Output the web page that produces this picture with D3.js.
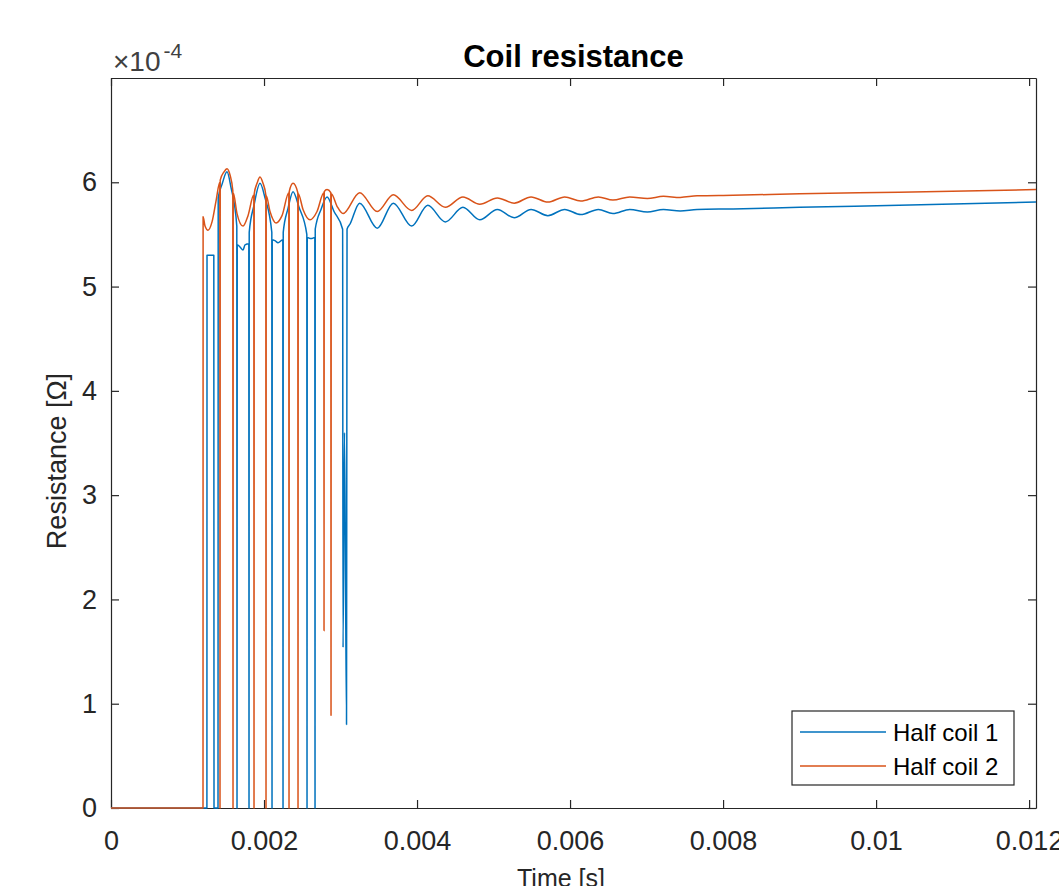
<!DOCTYPE html>
<html>
<head>
<meta charset="utf-8">
<script src="https://cdn.jsdelivr.net/npm/d3@7"></script>
<style>
  body { margin: 0; background: #fff; }
  svg { display: block; }
</style>
</head>
<body>
<div id="chart"></div>
<script>
// time [s]
var timeCoil1 = [0, 0.0012536, 0.0012549, 0.0013438, 0.0013464, 0.0013987, 0.0014013, 0.0014510, 0.0015163, 0.0015686,
  0.0016444, 0.0016471, 0.0016497, 0.0016863, 0.0017255, 0.0017516, 0.0018013, 0.0018039, 0.0018065, 0.0018693,
  0.0019477, 0.0020131, 0.0021020, 0.0021046, 0.0021072, 0.0021438, 0.0021830, 0.0022458, 0.0022484, 0.0022510,
  0.0023137, 0.0023791, 0.0024575, 0.0025595, 0.0025621, 0.0025647, 0.0026144, 0.0026641, 0.0026667, 0.0026693,
  0.0027451, 0.0028235, 0.0029150, 0.0030275, 0.0030327, 0.0030523, 0.0030784, 0.0030850, 0.0031242, 0.00325,
  0.00348, 0.00369, 0.00393, 0.00414, 0.00437, 0.00460, 0.00482, 0.00505, 0.00527, 0.00549,
  0.00571, 0.00593, 0.00614, 0.00637, 0.00656, 0.00678, 0.00701, 0.00722, 0.00744, 0.00766,
  0.00813, 0.0090, 0.0103, 0.01209];
// resistance, x1e-4 ohm
var resCoil1 = [0, 0, 5.30, 5.30, 0, 0, 5.85, 5.98, 6.10, 5.95,
  5.58, 0, 5.40, 5.38, 5.35, 5.40, 5.41, 0, 5.52, 5.78,
  5.99, 5.85, 5.52, 0, 5.45, 5.44, 5.42, 5.45, 0, 5.52,
  5.75, 5.91, 5.76, 5.50, 0, 5.47, 5.46, 5.47, 0, 5.55,
  5.74, 5.86, 5.72, 5.55, 1.54, 3.60, 0.80, 5.55, 5.60, 5.80,
  5.56, 5.80, 5.58, 5.78, 5.62, 5.76, 5.64, 5.74, 5.66, 5.74,
  5.68, 5.74, 5.69, 5.74, 5.70, 5.74, 5.715, 5.74, 5.725, 5.74,
  5.745, 5.76, 5.78, 5.81];

var timeCoil2 = [0, 0.0012026, 0.0012039, 0.0012288, 0.0012680, 0.0013203, 0.0013725, 0.0014222, 0.0014248, 0.0014275,
  0.0014771, 0.0015163, 0.0015556, 0.0015922, 0.0015948, 0.0015974, 0.0016471, 0.0017255, 0.0017908, 0.0018667,
  0.0018693, 0.0018719, 0.0019085, 0.0019477, 0.0019869, 0.0020235, 0.0020261, 0.0020288, 0.0020784, 0.0021569,
  0.0022353, 0.0023242, 0.0023268, 0.0023294, 0.0023791, 0.0024418, 0.0024444, 0.0024471, 0.0025098, 0.0026013,
  0.0026928, 0.0027817, 0.0027843, 0.0027869, 0.0028235, 0.0028732, 0.0028758, 0.0028784, 0.0029542, 0.0030327,
  0.00325, 0.00348, 0.00369, 0.00393, 0.00414, 0.00437, 0.00460, 0.00482, 0.00505, 0.00527,
  0.00549, 0.00571, 0.00593, 0.00614, 0.00637, 0.00656, 0.00678, 0.00701, 0.00722, 0.00744,
  0.00766, 0.00813, 0.0090, 0.0103, 0.01209];
var resCoil2 = [0, 0, 5.67, 5.58, 5.54, 5.62, 5.82, 6.00, 0, 6.02,
  6.10, 6.13, 6.07, 5.92, 0, 5.90, 5.70, 5.58, 5.68, 5.88,
  0, 5.89, 5.99, 6.05, 5.99, 5.88, 0, 5.87, 5.72, 5.61,
  5.68, 5.90, 0, 5.91, 5.99, 5.90, 0, 5.89, 5.74, 5.64,
  5.72, 5.90, 1.70, 5.91, 5.93, 5.90, 0.89, 5.89, 5.77, 5.70,
  5.90, 5.72, 5.88, 5.73, 5.87, 5.76, 5.86, 5.79, 5.85, 5.80,
  5.86, 5.81, 5.86, 5.82, 5.86, 5.83, 5.86, 5.845, 5.865, 5.855,
  5.87, 5.875, 5.89, 5.905, 5.93];

var xTicks = [0, 0.002, 0.004, 0.006, 0.008, 0.01, 0.012];
var xTickLabels = ["0", "0.002", "0.004", "0.006", "0.008", "0.01", "0.012"];
var yTicks = [0, 1, 2, 3, 4, 5, 6];
var seriesNames = ["Half coil 1", "Half coil 2"];
var seriesColors = ["#0072BD", "#D95319"];

var W = 1059, H = 886;
var margin = {top: 78, right: 23, bottom: 78, left: 111};
var width = W - margin.left - margin.right,
    height = H - margin.top - margin.bottom;
var font = "'Liberation Sans', Arial, Helvetica, sans-serif";
var axisColor = "#262626";

var svg = d3.select("#chart").append("svg")
  .attr("width", W)
  .attr("height", H)
  .style("background", "#fff");

var g = svg.append("g")
  .attr("transform", "translate(" + margin.left + "," + margin.top + ")");

var x = d3.scaleLinear().domain([0, 0.01209]).range([0, width]);
var y = d3.scaleLinear().domain([0, 7]).range([height, 0]);

g.append("clipPath").attr("id", "plot-clip")
  .append("rect").attr("x", -2).attr("y", -2)
  .attr("width", width + 2).attr("height", height + 4);

// axes, ticks pointing inward
function styleAxis(sel) {
  sel.attr("font-family", font).attr("font-size", 27).attr("color", axisColor);
  sel.select(".domain").attr("stroke-width", 1.2);
  sel.selectAll(".tick line").attr("stroke-width", 1.2);
  sel.selectAll(".tick text").attr("fill", axisColor);
}

g.append("g")
  .attr("transform", "translate(0," + height + ")")
  .call(d3.axisBottom(x).tickValues(xTicks)
    .tickFormat(function(d, i) { return xTickLabels[i]; })
    .tickSizeInner(-8).tickSizeOuter(0).tickPadding(23))
  .call(styleAxis);

g.append("g")
  .call(d3.axisTop(x).tickValues(xTicks).tickFormat("")
    .tickSizeInner(-8).tickSizeOuter(0))
  .call(styleAxis);

g.append("g")
  .call(d3.axisLeft(y).tickValues(yTicks).tickFormat(d3.format("d"))
    .tickSizeInner(-8).tickSizeOuter(0).tickPadding(14))
  .call(styleAxis);

g.append("g")
  .attr("transform", "translate(" + width + ",0)")
  .call(d3.axisRight(y).tickValues(yTicks).tickFormat("")
    .tickSizeInner(-8).tickSizeOuter(0))
  .call(styleAxis);

// series (drawn over the axes like matlab does)
var line = d3.line()
  .curve(d3.curveMonotoneX)
  .x(function(d) { return x(d[0]); })
  .y(function(d) { return y(d[1]); });

var series = [
  timeCoil1.map(function(t, i) { return [t, resCoil1[i]]; }),
  timeCoil2.map(function(t, i) { return [t, resCoil2[i]]; })
];

var plot = g.append("g").attr("clip-path", "url(#plot-clip)");
series.forEach(function(s, i) {
  plot.append("path")
    .datum(s)
    .attr("fill", "none")
    .attr("stroke", seriesColors[i])
    .attr("stroke-width", 1.5)
    .attr("stroke-linejoin", "round")
    .attr("d", line);
});

// exponent label
var expo = svg.append("text")
  .attr("x", margin.left + 2)
  .attr("y", 71)
  .attr("font-family", font)
  .attr("font-size", 28)
  .attr("fill", "#404040");
expo.append("tspan").text("\u00d710");
expo.append("tspan").attr("font-size", 21).attr("dy", -13).attr("dx", 3).text("-4");

// title
svg.append("text")
  .attr("x", margin.left + width / 2)
  .attr("y", 67)
  .attr("text-anchor", "middle")
  .attr("font-family", font)
  .attr("font-weight", "bold")
  .attr("font-size", 31)
  .attr("fill", "#000")
  .text("Coil resistance");

// axis labels
svg.append("text")
  .attr("transform", "translate(66,461) rotate(-90)")
  .attr("text-anchor", "middle")
  .attr("font-family", font)
  .attr("font-size", 27)
  .attr("fill", axisColor)
  .text("Resistance [\u03a9]");

svg.append("text")
  .attr("x", 561)
  .attr("y", 887)
  .attr("text-anchor", "middle")
  .attr("font-family", font)
  .attr("font-size", 25)
  .attr("fill", axisColor)
  .text("Time [s]");

// legend
var legend = svg.append("g").attr("transform", "translate(792,711)");
legend.append("rect")
  .attr("width", 222).attr("height", 74)
  .attr("fill", "#fff")
  .attr("stroke", axisColor)
  .attr("stroke-width", 1.2);
seriesNames.forEach(function(name, i) {
  var yy = 21 + i * 34;
  legend.append("line")
    .attr("x1", 8).attr("x2", 94)
    .attr("y1", yy).attr("y2", yy)
    .attr("stroke", seriesColors[i])
    .attr("stroke-width", 1.4);
  legend.append("text")
    .attr("x", 101).attr("y", yy)
    .attr("dy", "0.36em")
    .attr("font-family", font)
    .attr("font-size", 24)
    .attr("fill", "#000")
    .text(name);
});
</script>
</body>
</html>
